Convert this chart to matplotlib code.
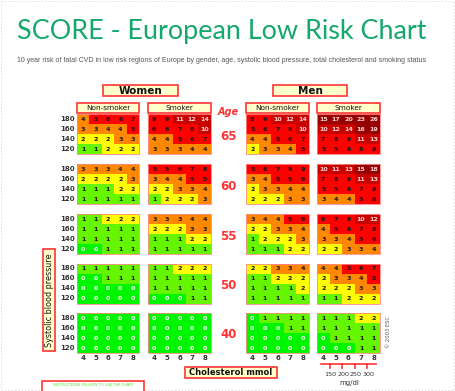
import matplotlib.pyplot as plt
from matplotlib.colors import ListedColormap, BoundaryNorm
from matplotlib.patches import Rectangle

# SCORE low risk chart values (rows: SBP 180,160,140,120 ; cols: cholesterol 4..8)
chol = [4, 5, 6, 7, 8]
sbp = [180, 160, 140, 120]
ages = [65, 60, 55, 50, 40]
mgdl = [150, 200, 250, 300]

women_nonsmoker = [
    [[4, 5, 6, 6, 7], [3, 3, 4, 4, 5], [2, 2, 2, 3, 3], [1, 1, 2, 2, 2]],
    [[3, 3, 3, 4, 4], [2, 2, 2, 2, 3], [1, 1, 1, 2, 2], [1, 1, 1, 1, 1]],
    [[1, 1, 2, 2, 2], [1, 1, 1, 1, 1], [1, 1, 1, 1, 1], [0, 0, 1, 1, 1]],
    [[1, 1, 1, 1, 1], [0, 0, 1, 1, 1], [0, 0, 0, 0, 0], [0, 0, 0, 0, 0]],
    [[0, 0, 0, 0, 0], [0, 0, 0, 0, 0], [0, 0, 0, 0, 0], [0, 0, 0, 0, 0]],
]
women_smoker = [
    [[9, 9, 11, 12, 14], [6, 6, 7, 8, 10], [4, 4, 5, 6, 7], [3, 3, 3, 4, 4]],
    [[5, 5, 6, 7, 8], [3, 4, 4, 5, 5], [2, 2, 3, 3, 4], [1, 2, 2, 2, 3]],
    [[3, 3, 3, 4, 4], [2, 2, 2, 3, 3], [1, 1, 1, 2, 2], [1, 1, 1, 1, 1]],
    [[1, 1, 2, 2, 2], [1, 1, 1, 1, 1], [1, 1, 1, 1, 1], [0, 0, 0, 1, 1]],
    [[0, 0, 0, 0, 0], [0, 0, 0, 0, 0], [0, 0, 0, 0, 0], [0, 0, 0, 0, 0]],
]
men_nonsmoker = [
    [[8, 9, 10, 12, 14], [5, 6, 7, 8, 10], [4, 4, 5, 6, 7], [2, 3, 3, 4, 5]],
    [[5, 6, 7, 8, 9], [3, 4, 5, 5, 6], [2, 3, 3, 4, 4], [2, 2, 2, 3, 3]],
    [[3, 4, 4, 5, 6], [2, 2, 3, 3, 4], [1, 2, 2, 2, 3], [1, 1, 1, 2, 2]],
    [[2, 2, 3, 3, 4], [1, 1, 2, 2, 2], [1, 1, 1, 1, 2], [1, 1, 1, 1, 1]],
    [[0, 1, 1, 1, 1], [0, 0, 0, 1, 1], [0, 0, 0, 0, 0], [0, 0, 0, 0, 0]],
]
men_smoker = [
    [[15, 17, 20, 23, 26], [10, 12, 14, 16, 19], [7, 8, 9, 11, 13], [5, 5, 6, 8, 9]],
    [[10, 11, 13, 15, 18], [7, 8, 9, 11, 13], [5, 5, 6, 7, 9], [3, 4, 4, 5, 6]],
    [[6, 7, 8, 10, 12], [4, 5, 6, 7, 8], [3, 3, 4, 5, 6], [2, 2, 3, 3, 4]],
    [[4, 4, 5, 6, 7], [2, 3, 3, 4, 5], [2, 2, 2, 3, 3], [1, 1, 2, 2, 2]],
    [[1, 1, 1, 2, 2], [1, 1, 1, 1, 1], [0, 1, 1, 1, 1], [0, 0, 0, 1, 1]],
]

risk_colors = ['#00f500', '#66f500', '#ffff00', '#ff8800', '#ff0000', '#c80000', '#960000']
cmap = ListedColormap(risk_colors)
norm = BoundaryNorm([-0.5, 0.5, 1.5, 2.5, 4.5, 9.5, 14.5, 40], cmap.N)

RED = '#ff3333'
PALE = '#ffffcc'

fig = plt.figure(figsize=(4.55, 3.91), dpi=100)
ax = fig.add_axes([0, 0, 1, 1])
ax.set_xlim(0, 455)
ax.set_ylim(391, 0)
ax.axis('off')

# faint page border
ax.add_patch(Rectangle((1, 1), 453, 389, fill=False, ec='#dddddd', lw=0.6, ls=(0, (2, 2))))


def fit_text(t, width_px):
    # scale a text's font size so it spans the given width in pixels
    r = fig.canvas.get_renderer()
    w = t.get_window_extent(r).width
    t.set_fontsize(t.get_fontsize() * width_px / w)


title = ax.text(17, 32, 'SCORE - European Low Risk Chart', fontsize=20, color='#14a86c',
                family='Lato', va='center', ha='left')
fit_text(title, 411)
sub = ax.text(17, 60, '10 year risk of fatal CVD in low risk regions of Europe by gender, age, '
              'systolic blood pressure, total cholesterol and smoking status',
              fontsize=5, color='#555555', family='Liberation Sans', va='center', ha='left')
fit_text(sub, 413)


def box(x0, y0, x1, y1, label, size, weight='bold', rot=0):
    ax.add_patch(Rectangle((x0, y0), x1 - x0, y1 - y0, fc=PALE, ec=RED, lw=1.2))
    ax.text((x0 + x1) / 2, (y0 + y1) / 2, label, fontsize=size, fontweight=weight,
            ha='center', va='center', rotation=rot, color='#111111')


box(103, 85, 178, 96, 'Women', 7.5)
box(273, 85, 347, 96, 'Men', 7.5)

block_x = [(77, 139), (148, 211), (246, 309), (317, 380)]
block_labels = ['Non-smoker', 'Smoker', 'Non-smoker', 'Smoker']
groups = [women_nonsmoker, women_smoker, men_nonsmoker, men_smoker]
block_top = [114, 164, 214, 263.5, 313]
rowh = 10

for (x0, x1), lab in zip(block_x, block_labels):
    box(x0, 103, x1, 112.5, lab, 5.3, weight='normal')

ax.text(228, 112, 'Age', fontsize=7, fontweight='bold', style='italic', color=RED,
        ha='center', va='center')

for gi, ((x0, x1), data) in enumerate(zip(block_x, groups)):
    colw = (x1 - x0) / len(chol)
    xe = [x0 + colw * i for i in range(len(chol) + 1)]
    for ai, age in enumerate(ages):
        y0 = block_top[ai]
        ye = [y0 + rowh * j for j in range(len(sbp) + 1)]
        vals = data[ai]
        ax.pcolormesh(xe, ye, vals, cmap=cmap, norm=norm, edgecolors='none')
        ax.add_patch(Rectangle((x0, y0), x1 - x0, rowh * len(sbp), fill=False,
                               ec='#ff8888', lw=0.6))
        for r in range(len(sbp)):
            for c in range(len(chol)):
                v = vals[r][c]
                if v == 0:
                    col = 'white'
                elif v >= 10:
                    col = '#ffd0d0'
                else:
                    col = '#1a1a1a'
                ax.text(xe[c] + colw / 2, ye[r] + rowh / 2 + 0.3, str(v), fontsize=4.6,
                        fontweight='bold', color=col, ha='center', va='center')
        if gi == 0:
            for r, s in enumerate(sbp):
                ax.text(75, ye[r] + rowh / 2, str(s), fontsize=5, fontweight='bold',
                        color='#333333', ha='right', va='center')
    # cholesterol column labels
    for c, ch in enumerate(chol):
        ax.text(xe[c] + colw / 2, 358, str(ch), fontsize=5, fontweight='bold',
                color='#333333', ha='center', va='center')

for ai, age in enumerate(ages):
    ax.text(228.5, block_top[ai] + 22, str(age), fontsize=8.5, fontweight='bold',
            color=RED, ha='center', va='center')

box(43, 249, 55, 351, 'Systolic blood pressure', 5.8, weight='normal', rot=90)
box(185, 367, 277, 377.5, 'Cholesterol mmol', 6, weight='bold')

# mg/dl scale under the men smoker block
x0, x1 = block_x[3]
colw = (x1 - x0) / len(chol)
ax.plot([x0 + 4, x1 - 4], [364, 364], color=RED, lw=1.2)
for i, m in enumerate(mgdl):
    tx = x0 + colw * (i + 1)
    ax.plot([tx, tx], [364, 368], color=RED, lw=1.2)
    ax.text(tx + 1, 375, str(m), fontsize=4.6, color='#333333', ha='center', va='center')
ax.text((x0 + x1) / 2 + 1, 382.5, 'mg/dl', fontsize=5, color='#333333', ha='center', va='center')

ax.text(388, 332, '© 2003 ESC', fontsize=3.8, color='#555555', rotation=90,
        ha='center', va='center')

ax.add_patch(Rectangle((42, 381), 102, 12, fc='white', ec=RED, lw=1.2, clip_on=True))
ax.text(93, 385.5, 'INSTRUCTIONS ON HOW TO USE THE CHART', fontsize=2.6, color='#55dd33',
        ha='center', va='center')

fig.savefig('out.png', dpi=100)
